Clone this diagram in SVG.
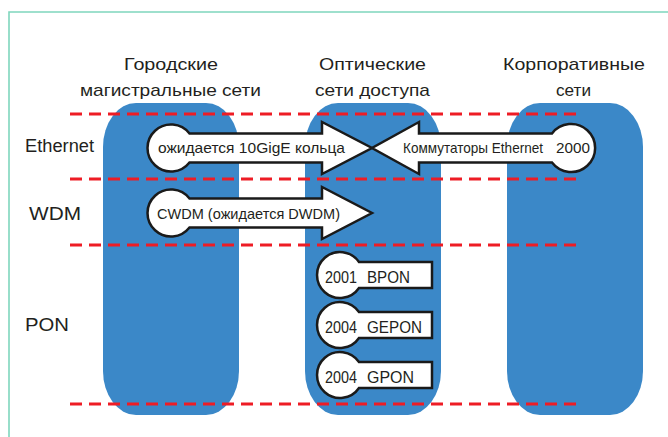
<svg xmlns="http://www.w3.org/2000/svg" width="668" height="437" viewBox="0 0 668 437">
  <defs>
    <style>
      .frame { fill: none; stroke: #7fd6bd; stroke-width: 1.6; }
      .column { fill: #3b88c8; }
      .divider { stroke: #ee1c25; stroke-width: 3; stroke-dasharray: 12 7; fill: none; }
      .shape { fill: #ffffff; stroke: #1a1a1a; stroke-width: 2.5; stroke-linejoin: miter; }
      text { font-family: "Liberation Sans", Arial, sans-serif; fill: #231f20; }
      .head { font-size: 17px; }
      .row { font-size: 18px; }
      .lbl { font-size: 15px; }
      .pon { font-size: 17px; }
    </style>
  </defs>

  <rect width="668" height="437" fill="#ffffff"/>
  <path class="frame" d="M9,437 V12 H668"/>

  <!-- column headers -->
  <g id="headers">
    <text class="head" x="124" y="70" textLength="94" lengthAdjust="spacingAndGlyphs">Городские</text>
    <text class="head" x="80" y="96" textLength="181" lengthAdjust="spacingAndGlyphs">магистральные сети</text>
    <text class="head" x="319" y="70" textLength="107" lengthAdjust="spacingAndGlyphs">Оптические</text>
    <text class="head" x="315" y="96" textLength="115" lengthAdjust="spacingAndGlyphs">сети доступа</text>
    <text class="head" x="503" y="70" textLength="142" lengthAdjust="spacingAndGlyphs">Корпоративные</text>
    <text class="head" x="556" y="96" textLength="35" lengthAdjust="spacingAndGlyphs">сети</text>
  </g>

  <!-- row labels -->
  <g id="rows">
    <text class="row" x="25" y="152" textLength="69" lengthAdjust="spacingAndGlyphs">Ethernet</text>
    <text class="row" x="29" y="220" textLength="52" lengthAdjust="spacingAndGlyphs">WDM</text>
    <text class="row" x="25" y="331" textLength="44" lengthAdjust="spacingAndGlyphs">PON</text>
  </g>

  <!-- network columns -->
  <g id="col-metro"><rect class="column" x="103" y="103" width="136" height="312" rx="33" ry="44"/></g>
  <g id="col-access"><rect class="column" x="305" y="103" width="136" height="312" rx="33" ry="44"/></g>
  <g id="col-corporate"><rect class="column" x="507" y="103" width="136" height="312" rx="33" ry="44"/></g>

  <!-- row dividers -->
  <g id="dividers">
    <line class="divider" x1="70" y1="114" x2="579" y2="114"/>
    <line class="divider" x1="70" y1="179" x2="579" y2="179"/>
    <line class="divider" x1="70" y1="245" x2="579" y2="245"/>
    <line class="divider" x1="70" y1="404" x2="579" y2="404"/>
  </g>

  <!-- technology arrows -->
  <g id="connectors">
    <g id="arrow-10gige">
      <path class="shape" d="M189.5,133.5 H322 V122 L372,148 L322,174 V162.5 H189.5 A23.5,23.5 0 1 1 189.5,133.5 Z"/>
      <text class="lbl" x="158" y="153" textLength="187" lengthAdjust="spacingAndGlyphs">ожидается 10GigE кольца</text>
    </g>
    <g id="arrow-switches">
      <path class="shape" d="M552,133.5 H419 V122 L372,148 L419,174 V162.5 H552 A24,24 0 1 0 552,133.5 Z"/>
      <text class="lbl" x="403" y="153" textLength="140" lengthAdjust="spacingAndGlyphs">Коммутаторы Ethernet</text>
      <text class="lbl" x="556" y="153" textLength="34" lengthAdjust="spacingAndGlyphs">2000</text>
    </g>
    <g id="arrow-cwdm">
      <path class="shape" d="M189.5,198.5 H322 V187 L372,213 L322,239 V227.5 H189.5 A23.5,23.5 0 1 1 189.5,198.5 Z"/>
      <text class="lbl" x="157" y="219" textLength="183" lengthAdjust="spacingAndGlyphs">CWDM (ожидается DWDM)</text>
    </g>
  </g>

  <!-- PON standards -->
  <g id="pon-bpon">
    <path class="shape" d="M359,262 H432 V288 H359 A23,23 0 1 1 359,262 Z"/>
    <text class="pon" x="325" y="283" textLength="32" lengthAdjust="spacingAndGlyphs">2001</text>
    <text class="pon" x="367" y="283" textLength="43" lengthAdjust="spacingAndGlyphs">BPON</text>
  </g>
  <g id="pon-gepon">
    <path class="shape" d="M359,312 H432 V338 H359 A23,23 0 1 1 359,312 Z"/>
    <text class="pon" x="325" y="333" textLength="32" lengthAdjust="spacingAndGlyphs">2004</text>
    <text class="pon" x="367" y="333" textLength="55" lengthAdjust="spacingAndGlyphs">GEPON</text>
  </g>
  <g id="pon-gpon">
    <path class="shape" d="M359,362 H432 V388 H359 A23,23 0 1 1 359,362 Z"/>
    <text class="pon" x="325" y="383" textLength="32" lengthAdjust="spacingAndGlyphs">2004</text>
    <text class="pon" x="367" y="383" textLength="47" lengthAdjust="spacingAndGlyphs">GPON</text>
  </g>
</svg>
